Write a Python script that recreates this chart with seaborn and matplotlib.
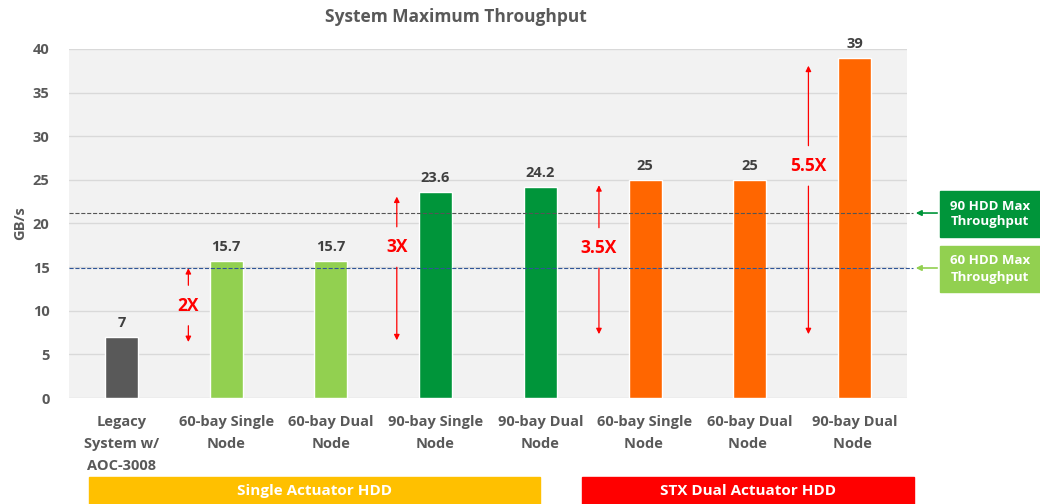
import matplotlib.pyplot as plt
import matplotlib.patches as mpatches
import seaborn as sns
import pandas as pd

# Data
categories = ['Legacy\nSystem w/\nAOC-3008', '60-bay Single\nNode', '60-bay Dual\nNode',
              '90-bay Single\nNode', '90-bay Dual\nNode', '60-bay Single\nNode ',
              '60-bay Dual\nNode ', '90-bay Dual\nNode ']
throughput = [7, 15.7, 15.7, 23.6, 24.2, 25, 25, 39]
bar_colors = ['#595959', '#92D050', '#92D050', '#00953A', '#00953A', '#FF6600', '#FF6600', '#FF6600']

max_90 = 21.2
max_60 = 14.9

# speedup arrows: x position, bottom, top, label y, label
arrow_x = [0.64, 2.63, 4.56, 6.56]
arrow_low = [6.1, 6.3, 7.0, 7.0]
arrow_high = [15.2, 23.4, 24.7, 38.4]
arrow_text_y = [10.6, 17.3, 17.2, 26.6]
arrow_labels = ['2X', '3X', '3.5X', '5.5X']

data = pd.DataFrame({'System': categories, 'GB/s': throughput})

sns.set_style('white')
plt.rcParams['font.family'] = ['Open Sans', 'DejaVu Sans']
text_gray = '#595959'

fig = plt.figure(figsize=(10.4, 5.04), dpi=100)
ax = fig.add_axes([0.0663, 0.2103, 0.8057, 0.6925])
ax.set_facecolor('#F2F2F2')

sns.barplot(data=data, x='System', y='GB/s', hue='System', palette=bar_colors,
            legend=False, width=0.315, saturation=1, ax=ax)

for c in ax.containers:
    ax.bar_label(c, fmt='{:g}', padding=5, fontsize=10.5, fontweight='bold', color='#404040')

ax.set_xlim(-0.5, 7.5)
ax.set_ylim(0, 40)
ax.set_yticks(range(0, 41, 5))
ax.yaxis.grid(True, color='#D9D9D9', linewidth=1)
ax.set_axisbelow(True)
for s in ax.spines.values():
    s.set_visible(False)
ax.tick_params(axis='both', length=0, labelsize=10.5, labelcolor=text_gray)
ax.tick_params(axis='x', pad=12)
ax.tick_params(axis='y', pad=14)
ax.set_xticks(range(len(categories)))
ax.set_xticklabels(categories, fontweight='bold')
for tick in ax.xaxis.get_major_ticks():
    tick.label1.set_linespacing(1.75)
for t in ax.get_yticklabels():
    t.set_fontweight('bold')
ax.set_xlabel('')
ax.set_ylabel('GB/s', fontsize=10.5, fontweight='bold', color=text_gray, labelpad=4)
fig.text(456 / 1040, 1 - 17 / 504, 'System Maximum Throughput', ha='center', va='center',
         fontsize=12.5, fontweight='bold', color=text_gray)

# max throughput reference lines
ax.plot([-0.5, 7.56], [max_90, max_90], ls='--', lw=0.8, color='#555555', clip_on=False)
ax.plot([-0.5, 7.56], [max_60, max_60], ls='--', lw=0.8, color='#2F5597', clip_on=False)

# speedup arrows
for x, lo, hi, ty, lab in zip(arrow_x, arrow_low, arrow_high, arrow_text_y, arrow_labels):
    gap = 2.0
    ax.annotate('', xy=(x, hi), xytext=(x, ty + gap),
                arrowprops=dict(arrowstyle='-|>', color='red', lw=0.9, mutation_scale=8))
    ax.annotate('', xy=(x, lo), xytext=(x, ty - gap),
                arrowprops=dict(arrowstyle='-|>', color='red', lw=0.9, mutation_scale=8))
    ax.text(x, ty, lab, ha='center', va='center', fontsize=12.5, fontweight='bold', color='red')

# right side callout boxes
for y0, y1, ly, col, lab in [(191, 237, max_90, '#00953A', '90 HDD Max\nThroughput'),
                             (246, 292, max_60, '#92D050', '60 HDD Max\nThroughput')]:
    fig.patches.append(mpatches.Rectangle((940 / 1040, 1 - y1 / 504), 100 / 1040, (y1 - y0) / 504,
                                          transform=fig.transFigure, color=col))
    fig.text(990 / 1040, 1 - (y0 + y1) / 2 / 504, lab, ha='center', va='center',
             fontsize=9.5, fontweight='bold', color='white', linespacing=1.3)
    ly_fig = 1 - (398 - ly * 8.725) / 504
    ax.annotate('', xy=(913 / 1040, ly_fig), xycoords='figure fraction',
                xytext=(940 / 1040, ly_fig), textcoords='figure fraction',
                arrowprops=dict(arrowstyle='-|>', color=col, lw=1.2, mutation_scale=8))

# group boxes at the bottom
for x0, x1, col, lab in [(89, 540, '#FFC000', 'Single Actuator HDD'),
                         (582, 914, '#FF0000', 'STX Dual Actuator HDD')]:
    fig.patches.append(mpatches.Rectangle((x0 / 1040, 0), (x1 - x0) / 1040, 27 / 504,
                                          transform=fig.transFigure, color=col))
    fig.text((x0 + x1) / 2 / 1040, 13 / 504, lab, ha='center', va='center',
             fontsize=11, fontweight='bold', color='white')

plt.savefig('out.png', dpi=100)
